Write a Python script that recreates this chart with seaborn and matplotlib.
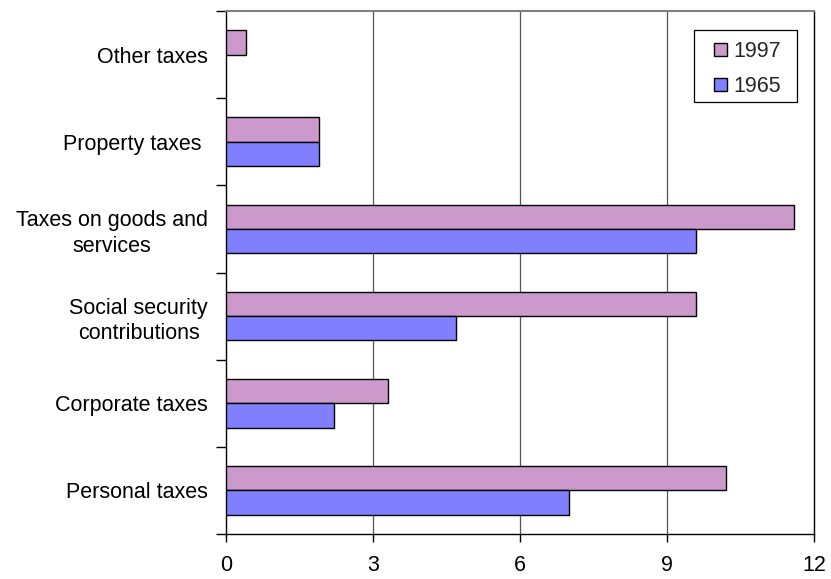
import numpy as np
import pandas as pd
import matplotlib
matplotlib.use("Agg")
import matplotlib.pyplot as plt
import seaborn as sns
from matplotlib.ticker import FixedLocator
from matplotlib.patches import Rectangle

# Tax revenue by source (top to bottom)
categories = [
    "Other taxes",
    "Property taxes ",
    "Taxes on goods and\nservices",
    "Social security\ncontributions",
    "Corporate taxes",
    "Personal taxes",
]
values_1997 = [0.4, 1.9, 11.6, 9.6, 3.3, 10.2]
values_1965 = [np.nan, 1.9, 9.6, 4.7, 2.2, 7.0]
years = ["1997", "1965"]
x_ticks = [0, 3, 6, 9, 12]

df = pd.DataFrame({
    "category": categories * 2,
    "value": values_1997 + values_1965,
    "year": [years[0]] * len(categories) + [years[1]] * len(categories),
})

sns.set_theme(style="white")
plt.rcParams["font.family"] = ["Liberation Sans", "DejaVu Sans"]

W, H = 831, 579
FS = 15.5

fig = plt.figure(figsize=(W / 100, H / 100), dpi=100)
ax_l, ax_r, ax_t, ax_b = 226, 814, 11, 534
ax = fig.add_axes([ax_l / W, 1 - ax_b / H, (ax_r - ax_l) / W, (ax_b - ax_t) / H])

palette = {"1997": "#CC99CC", "1965": "#8080FF"}
sns.barplot(
    data=df, x="value", y="category", hue="year",
    order=categories, hue_order=years, palette=palette,
    orient="h", width=0.56, dodge=True, gap=0,
    edgecolor="black", linewidth=1.0, saturation=1.0,
    ax=ax, zorder=3,
)

ax.set_xlim(0, 12)
ax.set_ylim(len(categories) - 0.5, -0.5)
ax.set_xticks(x_ticks)
ax.set_xticklabels([str(t) for t in x_ticks])
ax.set_xlabel("")
ax.set_ylabel("")

# vertical gridlines
for t in x_ticks[1:-1]:
    ax.axvline(t, color="#555555", lw=0.9, zorder=1)

# category separators on the category axis
ax.yaxis.set_minor_locator(FixedLocator(np.arange(-0.5, len(categories), 1.0)))
ax.tick_params(axis="y", which="minor", length=7, width=1.0, color="black", left=True)
ax.tick_params(axis="y", which="major", length=0, pad=13, labelsize=FS, labelcolor="black")
ax.tick_params(axis="x", which="major", length=6, width=1.0, color="black",
               bottom=True, pad=9, labelsize=FS, labelcolor="black")
for lab in ax.get_yticklabels():
    lab.set_multialignment("center")
    lab.set_linespacing(1.3)

for side in ["left", "bottom", "right"]:
    ax.spines[side].set_color("black")
    ax.spines[side].set_linewidth(1.0)
ax.spines["top"].set_color("#808080")
ax.spines["top"].set_linewidth(1.5)

# legend: entries placed inside a separately drawn box
def to_axes(px, py):
    return (px - ax_l) / (ax_r - ax_l), (ax_b - py) / (ax_b - ax_t)

handles, labels = ax.get_legend_handles_labels()
leg = ax.legend(
    handles, labels, loc="upper left", bbox_to_anchor=to_axes(714, 41),
    frameon=False, fontsize=FS,
    handlelength=0.62, handleheight=0.58, handletextpad=0.28,
    borderpad=0, labelspacing=0.65, borderaxespad=0,
)
for h in leg.legend_handles:
    h.set_edgecolor("black")
    h.set_linewidth(1.0)

bx0, by0 = to_axes(694, 102)
bx1, by1 = to_axes(797, 30)
ax.add_patch(Rectangle((bx0, by0), bx1 - bx0, by1 - by0, transform=ax.transAxes,
                       facecolor="white", edgecolor="black", lw=0.9, zorder=4))
leg.set_zorder(5)

fig.savefig("out.png", dpi=100, facecolor="white")
